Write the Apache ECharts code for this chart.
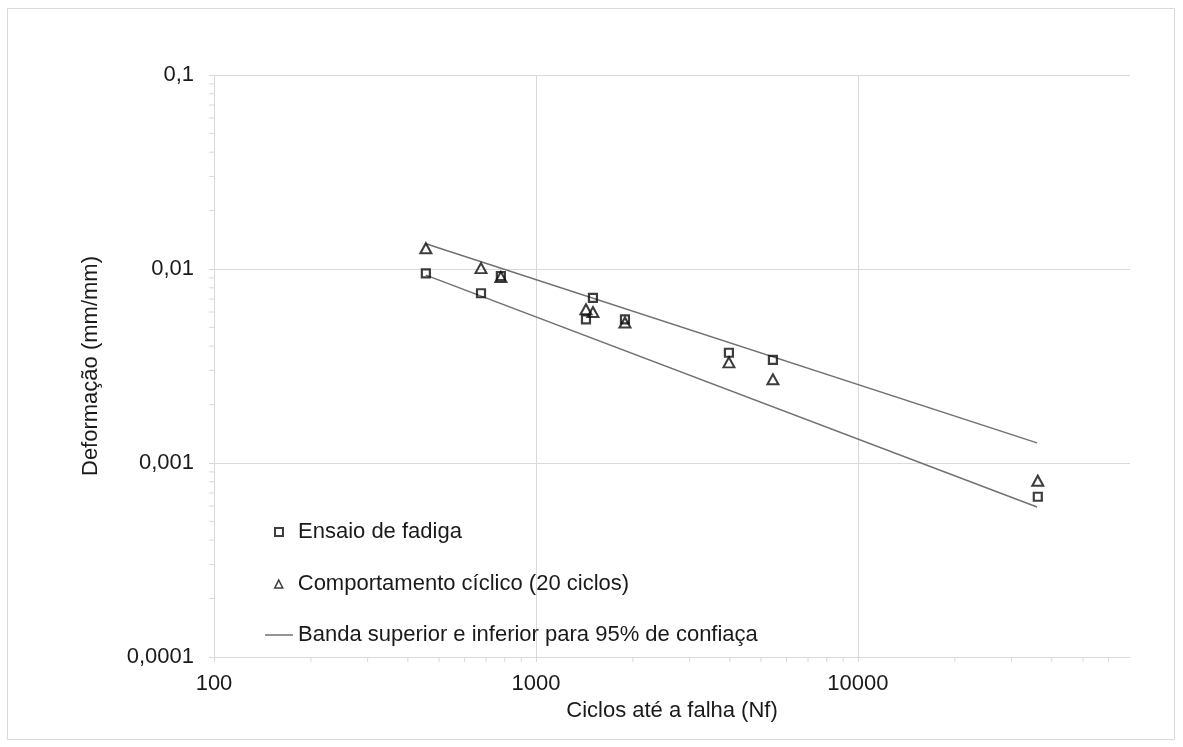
<!DOCTYPE html>
<html>
<head>
<meta charset="utf-8">
<script src="https://cdn.jsdelivr.net/npm/echarts@6/dist/echarts.min.js"></script>
<style>
  html, body { margin: 0; padding: 0; background: #ffffff; }
  #chart { width: 1183px; height: 747px; }
</style>
</head>
<body>
<div id="chart"></div>
<script>
// Cycles to failure for each specimen
const ciclos = [455, 675, 778, 1430, 1503, 1890, 3975, 5445, 36200];
// Strain amplitude, fatigue test
const deformacaoFadiga = [0.0095, 0.0075, 0.0092, 0.0055, 0.0071, 0.0055, 0.0037, 0.0034, 0.00067];
// Strain amplitude, cyclic behaviour after 20 cycles
const deformacaoCiclico = [0.0128, 0.0101, 0.0091, 0.0062, 0.0060, 0.0053, 0.0033, 0.0027, 0.00081];

// 95% confidence band end points
const bandaCiclos = [455, 36000];
const bandaSuperior = [0.0135, 0.00127];
const bandaInferior = [0.0093, 0.000593];

// Axis ticks
const xTickValues = [100, 1000, 10000];
const xTickLabels = ['100', '1000', '10000'];
const yTickValues = [0.0001, 0.001, 0.01, 0.1];
const yTickLabels = ['0,0001', '0,001', '0,01', '0,1'];
const xMinorTicks = [200, 300, 400, 500, 600, 700, 800, 900,
                     2000, 3000, 4000, 5000, 6000, 7000, 8000, 9000,
                     20000, 30000, 40000, 50000, 60000];
const yMinorTicks = [0.0002, 0.0003, 0.0004, 0.0005, 0.0006, 0.0007, 0.0008, 0.0009,
                     0.002, 0.003, 0.004, 0.005, 0.006, 0.007, 0.008, 0.009,
                     0.02, 0.03, 0.04, 0.05, 0.06, 0.07, 0.08, 0.09];

const X_MIN = 100, X_MAX = 70000, Y_MIN = 0.0001, Y_MAX = 0.1;

const FONT = '"Liberation Sans", Arial, sans-serif';
const TEXT = '#1a1a1a';
const GRID = '#d9d9d9';
const MARK = '#0d0d0d';
const BAND = '#707070';

const NOME_FADIGA = 'Ensaio de fadiga';
const NOME_CICLICO = 'Comportamento cíclico (20 ciclos)';
const NOME_BANDA = 'Banda superior e inferior para 95% de confiaça';

function lookupLabel(values, labels, v) {
  const lv = Math.log10(v);
  for (let i = 0; i < values.length; i++) {
    if (Math.abs(Math.log10(values[i]) - lv) < 1e-6) return labels[i];
  }
  return '';
}

const pairs = (xs, ys) => xs.map((x, i) => [x, ys[i]]);

const legendText = { fontFamily: FONT, fontSize: 22, lineHeight: 22, color: TEXT };

const chart = echarts.init(document.getElementById('chart'), null, { renderer: 'canvas' });

chart.setOption({
  animation: false,
  backgroundColor: '#ffffff',
  textStyle: { fontFamily: FONT },
  graphic: [{
    type: 'rect',
    shape: { x: 7.5, y: 8.5, width: 1167, height: 731 },
    style: { fill: 'none', stroke: GRID, lineWidth: 1 },
    silent: true, z: -10
  }],
  grid: { left: 214, right: 53, top: 75, bottom: 90 },
  legend: [
    {
      left: 269, top: 516, itemWidth: 8, itemHeight: 8, selectedMode: false,
      textStyle: Object.assign({ padding: [0, 0, 0, 10] }, legendText),
      data: [{ name: NOME_FADIGA, icon: 'rect',
        itemStyle: { color: 'rgba(0,0,0,0)', borderColor: MARK, borderWidth: 2 } }]
    },
    {
      left: 269, top: 568, itemWidth: 8, itemHeight: 8, selectedMode: false,
      textStyle: Object.assign({ padding: [0, 0, 0, 10] }, legendText),
      data: [{ name: NOME_CICLICO, icon: 'triangle',
        itemStyle: { color: 'rgba(0,0,0,0)', borderColor: MARK, borderWidth: 1.5 } }]
    },
    {
      left: 260, top: 619, itemWidth: 28, itemHeight: 1.5, selectedMode: false,
      textStyle: legendText,
      data: [{ name: NOME_BANDA, icon: 'rect',
        itemStyle: { color: BAND, borderWidth: 0 } }]
    }
  ],
  xAxis: {
    type: 'log',
    logBase: 10,
    min: X_MIN,
    max: X_MAX,
    name: 'Ciclos até a falha (Nf)',
    nameLocation: 'middle',
    nameGap: 38,
    nameTextStyle: { fontFamily: FONT, fontSize: 22, color: TEXT },
    axisLine: { lineStyle: { color: GRID, width: 1 } },
    axisTick: { show: true, length: 5, lineStyle: { color: GRID } },
    axisLabel: {
      fontFamily: FONT, fontSize: 22, color: TEXT, margin: 16,
      showMaxLabel: false,
      formatter: v => lookupLabel(xTickValues, xTickLabels, v)
    },
    splitLine: { show: true, showMaxLine: false, lineStyle: { color: GRID, width: 1 } }
  },
  yAxis: {
    type: 'log',
    logBase: 10,
    min: Y_MIN,
    max: Y_MAX,
    name: 'Deformação (mm/mm)',
    nameLocation: 'middle',
    nameGap: 112,
    nameTextStyle: { fontFamily: FONT, fontSize: 22, color: TEXT },
    axisLine: { show: true, lineStyle: { color: GRID, width: 1 } },
    axisTick: { show: true, length: 5, lineStyle: { color: GRID } },
    axisLabel: {
      fontFamily: FONT, fontSize: 22, color: TEXT, margin: 20,
      formatter: v => lookupLabel(yTickValues, yTickLabels, v)
    },
    splitLine: { show: true, lineStyle: { color: GRID, width: 1 } }
  },
  series: [
    {
      name: NOME_BANDA,
      type: 'line',
      data: pairs(bandaCiclos, bandaSuperior),
      symbol: 'none',
      lineStyle: { color: BAND, width: 1.5 },
      itemStyle: { color: BAND },
      z: 2
    },
    {
      name: NOME_BANDA,
      type: 'line',
      data: pairs(bandaCiclos, bandaInferior),
      symbol: 'none',
      lineStyle: { color: BAND, width: 1.5 },
      itemStyle: { color: BAND },
      z: 2
    },
    {
      name: NOME_FADIGA,
      type: 'scatter',
      data: pairs(ciclos, deformacaoFadiga),
      symbol: 'rect',
      symbolSize: 8,
      itemStyle: { color: 'rgba(0,0,0,0)', borderColor: MARK, borderWidth: 2.2 },
      z: 3
    },
    {
      name: NOME_CICLICO,
      type: 'scatter',
      data: pairs(ciclos, deformacaoCiclico),
      symbol: 'triangle',
      symbolSize: [11, 10],
      itemStyle: { color: 'rgba(0,0,0,0)', borderColor: MARK, borderWidth: 2 },
      z: 3
    },
    {
      // minor ticks below the x axis (2..9 of each decade)
      name: 'xMinor',
      type: 'custom',
      silent: true,
      data: xMinorTicks.map(v => [v, Y_MIN]),
      renderItem: (params, api) => {
        const p = api.coord([api.value(0), api.value(1)]);
        return {
          type: 'line',
          shape: { x1: p[0], y1: p[1], x2: p[0], y2: p[1] + 5 },
          style: { stroke: GRID, lineWidth: 1 }
        };
      }
    },
    {
      // minor ticks left of the y axis
      name: 'yMinor',
      type: 'custom',
      silent: true,
      data: yMinorTicks.map(v => [X_MIN, v]),
      renderItem: (params, api) => {
        const p = api.coord([api.value(0), api.value(1)]);
        return {
          type: 'line',
          shape: { x1: p[0] - 5, y1: p[1], x2: p[0], y2: p[1] },
          style: { stroke: GRID, lineWidth: 1 }
        };
      }
    }
  ]
});
</script>
</body>
</html>
